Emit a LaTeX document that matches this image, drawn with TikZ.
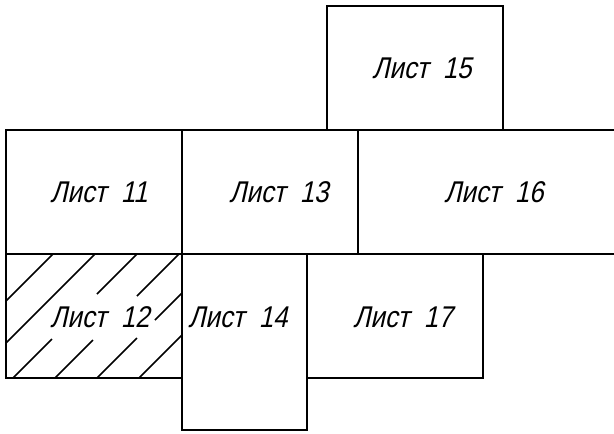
\documentclass[tikz,border=0pt]{standalone}
\usepackage{fontspec}
\newfontfamily\gost[FakeSlant=0.22,FakeStretch=0.86]{Liberation Sans}
\begin{document}
\begin{tikzpicture}[x=1pt,y=-1pt,
  sheet/.style={draw=black,line width=2.2pt,inner sep=0pt,outer sep=0pt,rectangle},
  lbl/.style={inner sep=0pt,font=\gost\fontsize{30}{30}\selectfont},
  hatch/.style={draw=black,line width=1.7pt}]
\useasboundingbox[fill=white] (0,0) rectangle (614,434);
% sheets
\node[sheet,minimum width=176pt,minimum height=124pt] (s15) at (415,68) {};
\node[sheet,minimum width=176pt,minimum height=124pt] (s11) at (94,192) {};
\node[sheet,minimum width=176pt,minimum height=124pt] (s13) at (270,192) {};
\node[sheet,minimum width=272pt,minimum height=124pt] (s16) at (494,192) {};
\node[sheet,minimum width=176pt,minimum height=124pt] (s12) at (94,316) {};
\node[sheet,minimum width=125pt,minimum height=176pt] (s14) at (244.5,342) {};
\node[sheet,minimum width=176pt,minimum height=124pt] (s17) at (395,316) {};
% hatching of sheet 12
\draw[hatch] (6,301) -- (53,254);
\draw[hatch] (6,343) -- (95,254);
\draw[hatch] (13,378) -- (52,339);
\draw[hatch] (97,294) -- (137,254);
\draw[hatch] (55,378) -- (93,340);
\draw[hatch] (137,296) -- (179,254);
\draw[hatch] (97,378) -- (137,338);
\draw[hatch] (155,320) -- (182,293);
\draw[hatch] (139,378) -- (182,335);
% labels
\node[lbl] (t15) at (422,68) {Лист\ \ 15};
\node[lbl] (t11) at (99,192) {Лист\ \ 11};
\node[lbl] (t13) at (279,192) {Лист\ \ 13};
\node[lbl] (t16) at (494,192) {Лист\ \ 16};
\node[lbl] (t12) at (100,317) {Лист\ \ 12};
\node[lbl] (t14) at (238,317) {Лист\ \ 14};
\node[lbl] (t17) at (403,317) {Лист\ \ 17};
\end{tikzpicture}
\end{document}
